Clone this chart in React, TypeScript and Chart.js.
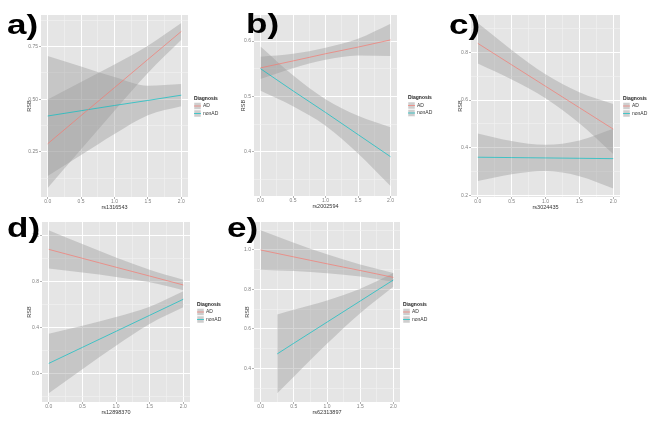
import React, { useEffect, useRef } from 'react';
import { Chart, registerables } from 'chart.js';
Chart.register(...registerables);

// ---------- shared labels ----------
const diagnosisGroups = ['AD', 'nonAD'];
const legendTitle = 'Diagnosis';
const yAxisTitle = 'RSB';
const panelLetters = ['a)', 'b)', 'c)', 'd)', 'e)'];
const snpNames = ['rs1316543', 'rs2002594', 'rs3024435', 'rs12898370', 'rs62313897'];
const xTicks = [0, 0.5, 1, 1.5, 2];
const xRange = [-0.1, 2.1];

// ---------- panel a ----------
const aX = [0, 0.5, 1, 1.5, 2];
const aAdFit = [0.288, 0.422, 0.555, 0.689, 0.822];
const aAdLow = [0.078, 0.262, 0.445, 0.624, 0.782];
const aAdHigh = [0.498, 0.582, 0.665, 0.754, 0.862];
const aNonFit = [0.42, 0.445, 0.47, 0.494, 0.519];
const aNonLow = [0.135, 0.235, 0.335, 0.424, 0.466];
const aNonHigh = [0.705, 0.655, 0.605, 0.564, 0.572];
const aYTicks = [0.25, 0.5, 0.75];
const aYRange = [0.035, 0.9];

// ---------- panel b ----------
const bX = [0, 0.5, 1, 1.5, 2];
const bAdFit = [0.5515, 0.564, 0.577, 0.589, 0.602];
const bAdLow = [0.5315, 0.551, 0.566, 0.574, 0.573];
const bAdHigh = [0.5715, 0.577, 0.588, 0.604, 0.631];
const bNonFit = [0.55, 0.51, 0.471, 0.431, 0.391];
const bNonLow = [0.51, 0.482, 0.447, 0.397, 0.338];
const bNonHigh = [0.59, 0.538, 0.495, 0.465, 0.444];
const bYTicks = [0.4, 0.5, 0.6];
const bYRange = [0.32, 0.647];

// ---------- panel c ----------
const cX = [0, 0.5, 1, 1.5, 2];
const cAdFit = [0.838, 0.748, 0.658, 0.568, 0.478];
const cAdLow = [0.753, 0.686, 0.608, 0.503, 0.373];
const cAdHigh = [0.923, 0.81, 0.708, 0.633, 0.583];
const cNonFit = [0.36, 0.3585, 0.357, 0.3555, 0.354];
const cNonLow = [0.26, 0.2885, 0.302, 0.2805, 0.229];
const cNonHigh = [0.46, 0.4285, 0.412, 0.4305, 0.479];
const cYTicks = [0.2, 0.4, 0.6, 0.8];
const cYRange = [0.193, 0.957];

// ---------- panel d ----------
const dX = [0, 0.5, 1, 1.5, 2];
const dAdFit = [1.083, 1.005, 0.927, 0.85, 0.772];
const dAdLow = [0.915, 0.88, 0.842, 0.795, 0.727];
const dAdHigh = [1.251, 1.13, 1.012, 0.905, 0.817];
const dNonFit = [0.087, 0.227, 0.367, 0.507, 0.647];
const dNonLow = [-0.173, 0.037, 0.242, 0.432, 0.577];
const dNonHigh = [0.347, 0.417, 0.492, 0.582, 0.717];
const dYTicks = [0, 0.4, 0.8, 1.2];
const dYRange = [-0.25, 1.322];

// ---------- panel e ----------
const eAdX = [0, 0.5, 1, 1.5, 2];
const eAdFit = [1.0, 0.965, 0.93, 0.896, 0.861];
const eAdLow = [0.9, 0.893, 0.882, 0.866, 0.839];
const eAdHigh = [1.1, 1.037, 0.978, 0.926, 0.883];
const eNonX = [0.25, 0.5, 1, 1.5, 2];
const eNonFit = [0.473, 0.527, 0.634, 0.741, 0.848];
const eNonLow = [0.273, 0.357, 0.524, 0.679, 0.813];
const eNonHigh = [0.673, 0.697, 0.744, 0.803, 0.883];
const eYTicks = [0.4, 0.6, 0.8, 1.0];
const eYRange = [0.229, 1.142];

// ---------- styling / layout ----------
const FONT = "'Liberation Sans', Arial, Helvetica, sans-serif";
const AD_COLOR = 'rgba(248,118,109,0.85)';
const NON_COLOR = 'rgba(0,191,196,0.85)';
const BAND = 'rgba(153,153,153,0.4)';
const PANEL_BG = '#E5E5E5';
const AX_W = 22;
const AX_H = 18;
const PAD_T = 6;
const PAD_R = 40;

type Box = { l: number; r: number; t: number; b: number };
type PanelSpec = {
  letter: string; snp: string;
  yTicks: number[]; yRange: number[]; yDec: number;
  adX: number[]; adFit: number[]; adLow: number[]; adHigh: number[];
  nonX: number[]; nonFit: number[]; nonLow: number[]; nonHigh: number[];
  box: Box; legendDx: number; yTitleOff: number; letterX: number; letterY: number;
};

const panels: PanelSpec[] = [
  { letter: panelLetters[0], snp: snpNames[0], yTicks: aYTicks, yRange: aYRange, yDec: 2,
    adX: aX, adFit: aAdFit, adLow: aAdLow, adHigh: aAdHigh, nonX: aX, nonFit: aNonFit, nonLow: aNonLow, nonHigh: aNonHigh,
    box: { l: 41, r: 188, t: 15, b: 197 }, legendDx: 6, yTitleOff: 12, letterX: 7, letterY: 10.5 },
  { letter: panelLetters[1], snp: snpNames[1], yTicks: bYTicks, yRange: bYRange, yDec: 1,
    adX: bX, adFit: bAdFit, adLow: bAdLow, adHigh: bAdHigh, nonX: bX, nonFit: bNonFit, nonLow: bNonLow, nonHigh: bNonHigh,
    box: { l: 254, r: 397, t: 15, b: 196 }, legendDx: 11, yTitleOff: 11, letterX: 245.5, letterY: 9.5 },
  { letter: panelLetters[2], snp: snpNames[2], yTicks: cYTicks, yRange: cYRange, yDec: 1,
    adX: cX, adFit: cAdFit, adLow: cAdLow, adHigh: cAdHigh, nonX: cX, nonFit: cNonFit, nonLow: cNonLow, nonHigh: cNonHigh,
    box: { l: 471, r: 620, t: 15, b: 197 }, legendDx: 3, yTitleOff: 11, letterX: 449, letterY: 11 },
  { letter: panelLetters[3], snp: snpNames[3], yTicks: dYTicks, yRange: dYRange, yDec: 1,
    adX: dX, adFit: dAdFit, adLow: dAdLow, adHigh: dAdHigh, nonX: dX, nonFit: dNonFit, nonLow: dNonLow, nonHigh: dNonHigh,
    box: { l: 42, r: 190, t: 222, b: 402 }, legendDx: 7, yTitleOff: 12.5, letterX: 7, letterY: 213.5 },
  { letter: panelLetters[4], snp: snpNames[4], yTicks: eYTicks, yRange: eYRange, yDec: 1,
    adX: eAdX, adFit: eAdFit, adLow: eAdLow, adHigh: eAdHigh, nonX: eNonX, nonFit: eNonFit, nonLow: eNonLow, nonHigh: eNonHigh,
    box: { l: 254, r: 400, t: 222, b: 402 }, legendDx: 3, yTitleOff: 7, letterX: 227, letterY: 213.5 },
];

const pts = (xs: number[], ys: number[]) => xs.map((x, i) => ({ x, y: ys[i] }));
const isMajor = (v: number, majors: number[]) => majors.some((m) => Math.abs(m - v) < 1e-6);
function withMinors(majors: number[], lo: number, hi: number) {
  const step = majors[1] - majors[0];
  const all: number[] = [];
  majors.forEach((m) => { all.push(m - step / 2, m, m + step / 2); });
  const uniq: number[] = [];
  all.forEach((v) => { if (v >= lo && v <= hi && !uniq.some((u) => Math.abs(u - v) < 1e-6)) uniq.push(v); });
  return uniq.sort((p, q) => p - q);
}

function gridOpts(majors: number[]) {
  return {
    color: (ctx: any) => (ctx.tick && isMajor(ctx.tick.value, majors) ? '#FFFFFF' : '#F2F2F2'),
    lineWidth: (ctx: any) => (ctx.tick && isMajor(ctx.tick.value, majors) ? 1 : 0.6),
    tickColor: (ctx: any) => (ctx.tick && isMajor(ctx.tick.value, majors) ? '#7F7F7F' : 'rgba(0,0,0,0)'),
    tickLength: 2,
    tickWidth: 0.6,
  };
}

function buildConfig(p: PanelSpec): any {
  const xAll = withMinors(xTicks, xRange[0], xRange[1]);
  const yAll = withMinors(p.yTicks, p.yRange[0], p.yRange[1]);
  const bgPlugin = {
    id: 'panelBg',
    beforeDraw(chart: any) {
      const { ctx, chartArea: a } = chart;
      ctx.save();
      ctx.fillStyle = PANEL_BG;
      ctx.fillRect(a.left, a.top, a.right - a.left, a.bottom - a.top);
      ctx.restore();
    },
  };
  const legendPlugin = {
    id: 'ggLegend',
    afterDraw(chart: any) {
      const { ctx, chartArea: a } = chart;
      const x = a.right + p.legendDx;
      const cy = (a.top + a.bottom) / 2;
      ctx.save();
      ctx.textBaseline = 'middle';
      ctx.textAlign = 'left';
      ctx.fillStyle = '#222';
      ctx.font = `bold 5px ${FONT}`;
      ctx.fillText(legendTitle, x, cy - 7.5);
      const colors = [AD_COLOR, NON_COLOR];
      diagnosisGroups.forEach((g, i) => {
        const ky = cy - 3.5 + i * 7.5;
        ctx.fillStyle = '#F2F2F2';
        ctx.fillRect(x, ky, 7, 7);
        ctx.fillStyle = BAND;
        ctx.fillRect(x, ky, 7, 7);
        ctx.strokeStyle = '#FFFFFF';
        ctx.lineWidth = 0.5;
        ctx.strokeRect(x, ky, 7, 7);
        ctx.strokeStyle = colors[i];
        ctx.lineWidth = 0.8;
        ctx.beginPath();
        ctx.moveTo(x, ky + 3.5);
        ctx.lineTo(x + 7, ky + 3.5);
        ctx.stroke();
        ctx.fillStyle = '#333';
        ctx.font = `5px ${FONT}`;
        ctx.fillText(g, x + 9, ky + 3.5);
      });
      ctx.restore();
    },
  };
  const band = { borderWidth: 0, pointRadius: 0, backgroundColor: BAND, borderColor: 'rgba(0,0,0,0)', cubicInterpolationMode: 'monotone' };
  const fitLine = { borderWidth: 0.8, pointRadius: 0, fill: false, tension: 0 };
  return {
    type: 'line',
    data: {
      datasets: [
        { ...fitLine, label: diagnosisGroups[0], data: pts(p.adX, p.adFit), borderColor: AD_COLOR },
        { ...fitLine, label: diagnosisGroups[1], data: pts(p.nonX, p.nonFit), borderColor: NON_COLOR },
        { ...band, label: 'AD upper', data: pts(p.adX, p.adHigh), fill: '+1' },
        { ...band, label: 'AD lower', data: pts(p.adX, p.adLow), fill: false },
        { ...band, label: 'nonAD upper', data: pts(p.nonX, p.nonHigh), fill: '+1' },
        { ...band, label: 'nonAD lower', data: pts(p.nonX, p.nonLow), fill: false },
      ],
    },
    options: {
      animation: false,
      responsive: false,
      events: [],
      layout: { padding: { left: 0, top: PAD_T, right: PAD_R, bottom: 0 } },
      plugins: { legend: { display: false }, tooltip: { enabled: false } },
      scales: {
        x: {
          type: 'linear',
          min: xRange[0],
          max: xRange[1],
          afterBuildTicks: (s: any) => { s.ticks = xAll.map((v) => ({ value: v })); },
          afterFit: (s: any) => { s.height = AX_H; },
          ticks: {
            autoSkip: false, maxRotation: 0, padding: 0,
            font: { family: FONT, size: 5 }, color: '#7F7F7F',
            callback: (v: any) => (isMajor(Number(v), xTicks) ? Number(v).toFixed(1) : ''),
          },
          grid: gridOpts(xTicks),
          border: { display: false },
          title: { display: true, text: p.snp, font: { family: FONT, size: 5.5 }, color: '#333', padding: { top: 0, bottom: 4.7 } },
        },
        y: {
          type: 'linear',
          min: p.yRange[0],
          max: p.yRange[1],
          afterBuildTicks: (s: any) => { s.ticks = yAll.map((v) => ({ value: v })); },
          afterFit: (s: any) => { s.width = AX_W; },
          ticks: {
            autoSkip: false, padding: 1,
            font: { family: FONT, size: 5 }, color: '#7F7F7F',
            callback: (v: any) => (isMajor(Number(v), p.yTicks) ? Number(v).toFixed(p.yDec) : ''),
          },
          grid: gridOpts(p.yTicks),
          border: { display: false },
          title: { display: true, text: yAxisTitle, font: { family: FONT, size: 5.5 }, color: '#333', padding: { top: AX_W - p.yTitleOff - 3.3, bottom: 0 } },
        },
      },
    },
    plugins: [bgPlugin, legendPlugin],
  };
}

function Panel({ spec }: { spec: PanelSpec }) {
  const ref = useRef<HTMLCanvasElement>(null);
  useEffect(() => {
    const chart = new Chart(ref.current as HTMLCanvasElement, buildConfig(spec));
    return () => chart.destroy();
  }, [spec]);
  const { l, r, t, b } = spec.box;
  const w = r - l + AX_W + PAD_R;
  const h = b - t + PAD_T + AX_H;
  return (
    <canvas
      ref={ref}
      width={w}
      height={h}
      style={{ position: 'absolute', left: l - AX_W, top: t - PAD_T, width: w, height: h }}
    />
  );
}

export default function App() {
  return (
    <div style={{ position: 'absolute', left: 0, top: 0, width: 654, height: 422, overflow: 'hidden', background: '#fff' }}>
      {panels.map((p, i) => (
        <Panel key={i} spec={p} />
      ))}
      {panels.map((p, i) => (
        <div
          key={'letter' + i}
          style={{
            position: 'absolute', left: p.letterX, top: p.letterY,
            fontFamily: FONT, fontWeight: 'bold', fontSize: 28, lineHeight: '28px',
            transform: 'scaleX(1.25)', transformOrigin: 'left top', color: '#000', whiteSpace: 'nowrap',
          }}
        >
          {p.letter}
        </div>
      ))}
    </div>
  );
}
